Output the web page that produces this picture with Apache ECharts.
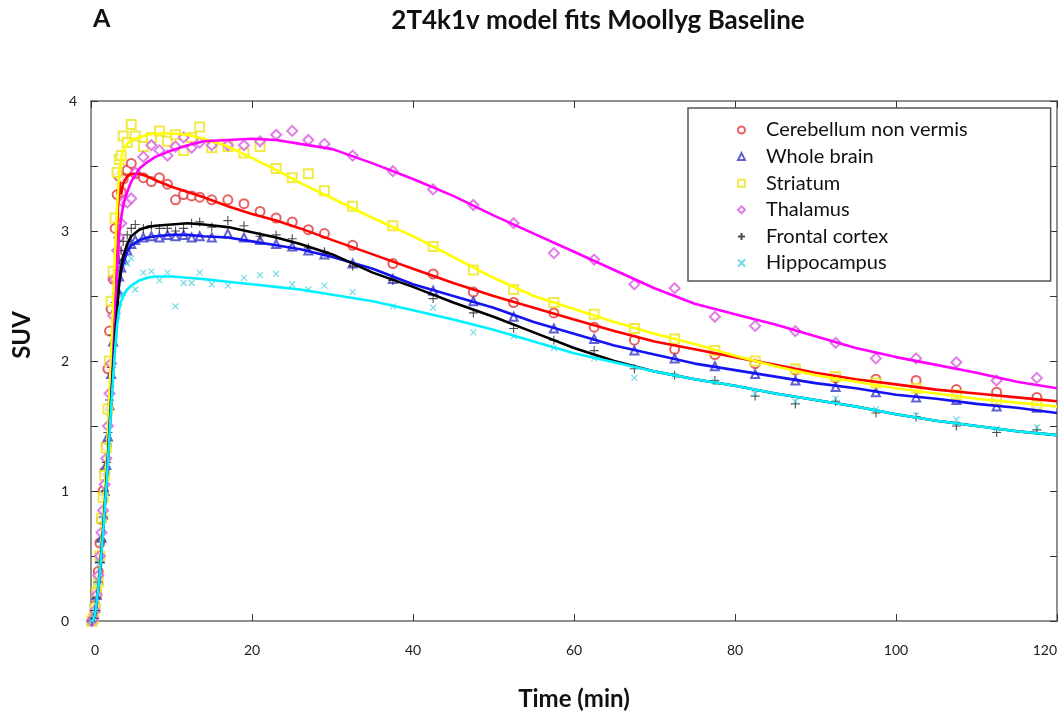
<!DOCTYPE html>
<html>
<head>
<meta charset="utf-8">
<script src="https://cdn.jsdelivr.net/npm/echarts@6/dist/echarts.min.js"></script>
<style>
  html, body { margin: 0; padding: 0; background: #fff; }
  #chart { width: 1064px; height: 717px; }
</style>
</head>
<body>
<div id="chart"></div>
<script>
// frame mid-times (min) of the measured TACs
const frameTimes = [0.1, 0.3, 0.5, 0.7, 0.9, 1.1, 1.3, 1.5, 1.7, 1.9, 2.1, 2.3, 2.5, 2.75, 3.0, 3.25, 3.5, 3.75, 4.0, 4.5, 5.0, 5.5,
  6.5, 7.5, 8.5, 9.5, 10.5, 11.5, 12.5, 13.5, 15, 17, 19, 21, 23, 25, 27, 29,
  32.5, 37.5, 42.5, 47.5, 52.5, 57.5, 62.5, 67.5, 72.5, 77.5, 82.5, 87.5, 92.5, 97.5, 102.5, 107.5, 112.5, 117.5];

// measured SUV
const cerebellumData = [0.0, 0.03, 0.12, 0.22, 0.38, 0.6, 0.78, 1.0, 1.15, 1.35, 1.94, 2.23, 2.4, 2.63, 3.02, 3.28, 3.42, 3.30, 3.40, 3.47, 3.52, 3.44,
  3.41, 3.38, 3.41, 3.36, 3.24, 3.28, 3.27, 3.26, 3.24, 3.24, 3.21, 3.15, 3.10, 3.07, 3.01, 2.98,
  2.89, 2.75, 2.67, 2.53, 2.45, 2.37, 2.26, 2.16, 2.09, 2.05, 1.98, 1.93, 1.87, 1.86, 1.85, 1.78, 1.76, 1.72];
const wholeBrainData = [0.0, 0.03, 0.1, 0.2, 0.32, 0.48, 0.64, 0.82, 1.0, 1.2, 1.42, 1.66, 1.9, 2.15, 2.4, 2.55, 2.65, 2.72, 2.78, 2.85, 2.9, 2.93,
  2.95, 2.96, 2.95, 2.97, 2.96, 2.97, 2.95, 2.96, 2.95, 2.98, 2.95, 2.93, 2.90, 2.88, 2.85, 2.82,
  2.75, 2.63, 2.54, 2.46, 2.34, 2.25, 2.17, 2.08, 2.02, 1.96, 1.90, 1.85, 1.80, 1.76, 1.72, 1.70, 1.65, 1.64];
const striatumData = [0.0, 0.02, 0.1, 0.22, 0.3, 0.5, 0.79, 0.95, 1.12, 1.33, 1.63, 2.0, 2.46, 2.69, 3.1, 3.45, 3.55, 3.58, 3.73, 3.68, 3.82, 3.73,
  3.65, 3.72, 3.77, 3.69, 3.74, 3.62, 3.72, 3.80, 3.64, 3.65, 3.60, 3.65, 3.48, 3.41, 3.44, 3.31,
  3.19, 3.04, 2.88, 2.70, 2.55, 2.45, 2.36, 2.25, 2.17, 2.08, 2.00, 1.94, 1.88, 1.83, 1.79, 1.74, 1.70, 1.66];
const thalamusData = [0.0, 0.02, 0.08, 0.2, 0.35, 0.5, 0.68, 0.85, 1.05, 1.25, 1.5, 1.75, 1.98, 2.35, 2.63, 2.85, 2.95, 3.06, 3.22, 3.22, 3.25, 3.45,
  3.57, 3.66, 3.62, 3.58, 3.65, 3.72, 3.64, 3.68, 3.66, 3.66, 3.66, 3.69, 3.74, 3.77, 3.70, 3.67,
  3.58, 3.46, 3.32, 3.20, 3.06, 2.83, 2.78, 2.59, 2.56, 2.34, 2.27, 2.23, 2.14, 2.02, 2.02, 1.99, 1.85, 1.87];
const frontalData = [0.0, 0.02, 0.08, 0.18, 0.3, 0.45, 0.62, 0.8, 1.0, 1.22, 1.45, 1.7, 1.95, 2.2, 2.45, 2.7, 2.78, 2.85, 2.92, 2.97, 3.02, 3.05,
  3.02, 3.04, 3.02, 3.02, 3.0, 3.02, 3.06, 3.07, 3.03, 3.08, 3.04, 2.96, 2.97, 2.94, 2.87, 2.84,
  2.73, 2.62, 2.48, 2.37, 2.25, 2.16, 2.08, 1.94, 1.89, 1.85, 1.73, 1.67, 1.69, 1.60, 1.57, 1.50, 1.45, 1.47];
const hippocampusData = [0.0, 0.02, 0.08, 0.18, 0.3, 0.45, 0.6, 0.78, 0.96, 1.15, 1.38, 1.6, 1.82, 2.05, 2.2, 2.35, 2.45, 2.5, 2.52, 2.75, 2.79, 2.55,
  2.68, 2.69, 2.62, 2.68, 2.42, 2.60, 2.60, 2.68, 2.59, 2.58, 2.64, 2.66, 2.67, 2.59, 2.55, 2.58,
  2.53, 2.42, 2.41, 2.22, 2.19, 2.10, 2.02, 1.87, 1.89, 1.84, 1.75, 1.69, 1.71, 1.63, 1.58, 1.55, 1.48, 1.49];

// model fit curves
const fitTimes = [0, 0.25, 0.5, 1, 1.5, 2, 2.5, 3, 3.25, 3.5, 3.75, 4, 4.5, 5, 6, 7, 8, 10, 12, 14, 17, 20, 23, 26, 30,
  35, 40, 45, 50, 55, 60, 65, 70, 75, 80, 85, 90, 95, 100, 105, 110, 115, 120];
const cerebellumFit = [0, 0, 0.05, 0.33, 0.75, 1.25, 1.95, 2.7, 3.05, 3.38, 3.28, 3.37, 3.42, 3.44, 3.44, 3.42, 3.39,
  3.34, 3.3, 3.26, 3.19, 3.13, 3.08, 3.02, 2.93,
  2.82, 2.71, 2.6, 2.5, 2.41, 2.32, 2.23, 2.15, 2.09, 2.03, 1.97, 1.91, 1.86, 1.82, 1.78, 1.75, 1.72, 1.69];
const wholeBrainFit = [0, 0, 0.05, 0.3, 0.7, 1.15, 1.7, 2.25, 2.45, 2.6, 2.69, 2.75, 2.84, 2.89, 2.93, 2.95, 2.96,
  2.97, 2.97, 2.96, 2.95, 2.92, 2.89, 2.86, 2.8,
  2.71, 2.59, 2.5, 2.41, 2.3, 2.21, 2.12, 2.05, 1.98, 1.93, 1.88, 1.83, 1.79, 1.74, 1.71, 1.67, 1.64, 1.6];
const striatumFit = [0, 0, 0.05, 0.34, 0.78, 1.3, 2.05, 2.85, 3.2, 3.45, 3.56, 3.62, 3.67, 3.7, 3.72, 3.74, 3.75,
  3.75, 3.74, 3.71, 3.65, 3.56, 3.47, 3.37, 3.25,
  3.1, 2.96, 2.8, 2.64, 2.5, 2.4, 2.3, 2.21, 2.13, 2.04, 1.96, 1.89, 1.84, 1.79, 1.75, 1.71, 1.68, 1.65];
const thalamusFit = [0, 0, 0.05, 0.3, 0.7, 1.15, 1.7, 2.35, 2.7, 2.98, 3.1, 3.2, 3.3, 3.38, 3.48, 3.53, 3.57,
  3.62, 3.66, 3.69, 3.7, 3.71, 3.7, 3.67, 3.63,
  3.52, 3.4, 3.27, 3.12, 2.98, 2.84, 2.7, 2.56, 2.44, 2.36, 2.28, 2.19, 2.1, 2.03, 1.97, 1.91, 1.84, 1.79];
const frontalFit = [0, 0, 0.05, 0.3, 0.7, 1.15, 1.7, 2.2, 2.4, 2.6, 2.72, 2.8, 2.9, 2.96, 3.01, 3.03, 3.04,
  3.05, 3.06, 3.05, 3.03, 2.99, 2.95, 2.9, 2.82,
  2.68, 2.57, 2.45, 2.34, 2.22, 2.1, 2.0, 1.92, 1.86, 1.81, 1.75, 1.7, 1.65, 1.59, 1.54, 1.5, 1.46, 1.43];
const hippocampusFit = [0, 0, 0.05, 0.3, 0.68, 1.12, 1.65, 2.1, 2.28, 2.4, 2.46, 2.5, 2.55, 2.58, 2.62, 2.64, 2.65,
  2.65, 2.64, 2.63, 2.61, 2.59, 2.57, 2.55, 2.51,
  2.46, 2.39, 2.32, 2.24, 2.15, 2.06, 1.99, 1.92, 1.86, 1.81, 1.75, 1.7, 1.65, 1.59, 1.54, 1.5, 1.46, 1.43];

const xTicks = [0, 20, 40, 60, 80, 100, 120];
const yTicks = [0, 1, 2, 3, 4];

const regions = [
  { name: 'Cerebellum non vermis', data: cerebellumData, fit: cerebellumFit, symbol: 'emptyCircle', size: 9, mark: '#e03a3a', line: '#ff0000' },
  { name: 'Whole brain', data: wholeBrainData, fit: wholeBrainFit, symbol: 'emptyTriangle', size: 8, mark: '#3a3ac8', line: '#1414f0' },
  { name: 'Striatum', data: striatumData, fit: striatumFit, symbol: 'emptyRect', size: 9, mark: '#ece31a', line: '#ffff00' },
  { name: 'Thalamus', data: thalamusData, fit: thalamusFit, symbol: 'emptyDiamond', size: 10, mark: '#d95ee0', line: '#ff00ff' },
  { name: 'Frontal cortex', data: frontalData, fit: frontalFit, symbol: 'path://M5,0L5,10M0,5L10,5', size: 9, mark: '#222222', line: '#000000' },
  { name: 'Hippocampus', data: hippocampusData, fit: hippocampusFit, symbol: 'path://M0,0L10,10M10,0L0,10', size: 6, mark: '#4ccfe0', line: '#00f0ff' },
];

const pairs = (xs, ys) => xs.map((x, i) => [x, ys[i]]);

const series = [];
regions.forEach(r => {
  series.push({
    name: r.name,
    type: 'scatter',
    data: pairs(frameTimes, r.data),
    symbol: r.symbol,
    symbolSize: r.size,
    itemStyle: { color: r.mark, borderColor: r.mark, borderWidth: 1.1 },
    z: 2,
  });
});
regions.forEach(r => {
  series.push({
    name: 'fit ' + r.name,
    type: 'line',
    data: pairs(fitTimes, r.fit),
    showSymbol: false,
    lineStyle: { color: r.line, width: 2.6 },
    z: 3,
  });
});

const axisColor = '#6b6b6b';
const tickFont = { fontFamily: 'Lato', fontSize: 14, color: '#222' };

const option = {
  animation: false,
  backgroundColor: '#fff',
  grid: { left: 91, top: 101, right: 7, bottom: 96, outerBoundsMode: 'none' },
  graphic: [
    { type: 'text', left: 93, top: 6, style: { text: 'A', font: 'bold 25px Lato', fill: '#111' } },
    { type: 'text', x: 598, y: 21, style: { text: '2T4k1v model fits Moollyg Baseline', font: 'bold 26px Lato', fill: '#111', align: 'center', verticalAlign: 'middle' } },
    { type: 'text', x: 22, y: 335, rotation: Math.PI / 2, style: { text: 'SUV', font: 'bold 24px Lato', fill: '#111', align: 'center', verticalAlign: 'middle' } },
  ],
  legend: {
    data: regions.map(r => r.name),
    orient: 'vertical',
    left: 688,
    top: 108,
    padding: [12, 83, 8, 49],
    itemWidth: 7,
    itemHeight: 7,
    itemGap: 6.6,
    borderColor: '#555',
    borderWidth: 1.5,
    backgroundColor: '#fff',
    textStyle: { fontFamily: 'Lato', fontSize: 20, color: '#111', lineHeight: 20, padding: [0, 0, 0, 16] },
  },
  xAxis: [
    {
      type: 'value', min: 0, max: 120, interval: 20,
      name: 'Time (min)', nameLocation: 'middle', nameGap: 66,
      nameTextStyle: { fontFamily: 'Lato', fontWeight: 'bold', fontSize: 24, color: '#111' },
      axisLine: { onZero: false, lineStyle: { color: axisColor, width: 1.5 } },
      axisTick: { inside: true, length: 7, lineStyle: { color: '#333' } },
      axisLabel: { ...tickFont, margin: 22, alignMinLabel: 'left', alignMaxLabel: 'right',
        formatter: v => xTicks.includes(v) ? String(v) : '' },
      splitLine: { show: false },
    },
    {
      type: 'value', position: 'top', min: 0, max: 120, interval: 20,
      axisLine: { onZero: false, lineStyle: { color: axisColor, width: 1.5 } },
      axisTick: { inside: true, length: 7, lineStyle: { color: '#333' } },
      axisLabel: { show: false },
      splitLine: { show: false },
    },
  ],
  yAxis: [
    {
      type: 'value', min: 0, max: 4, interval: 0.5,
      axisLine: { show: true, onZero: false, lineStyle: { color: axisColor, width: 1.5 } },
      axisTick: { show: true, inside: true, length: 7, lineStyle: { color: '#333' } },
      axisLabel: { ...tickFont, margin: 22, alignMaxLabel: 'bottom',
        formatter: v => yTicks.includes(v) ? String(v) : '' },
      splitLine: { show: false },
    },
    {
      type: 'value', position: 'right', min: 0, max: 4, interval: 0.5,
      axisLine: { show: true, onZero: false, lineStyle: { color: axisColor, width: 1.5 } },
      axisTick: { show: true, inside: true, length: 7, lineStyle: { color: '#333' } },
      axisLabel: { show: false },
      splitLine: { show: false },
    },
  ],
  series: series,
};

const chart = echarts.init(document.getElementById('chart'));
chart.setOption(option);
</script>
</body>
</html>
